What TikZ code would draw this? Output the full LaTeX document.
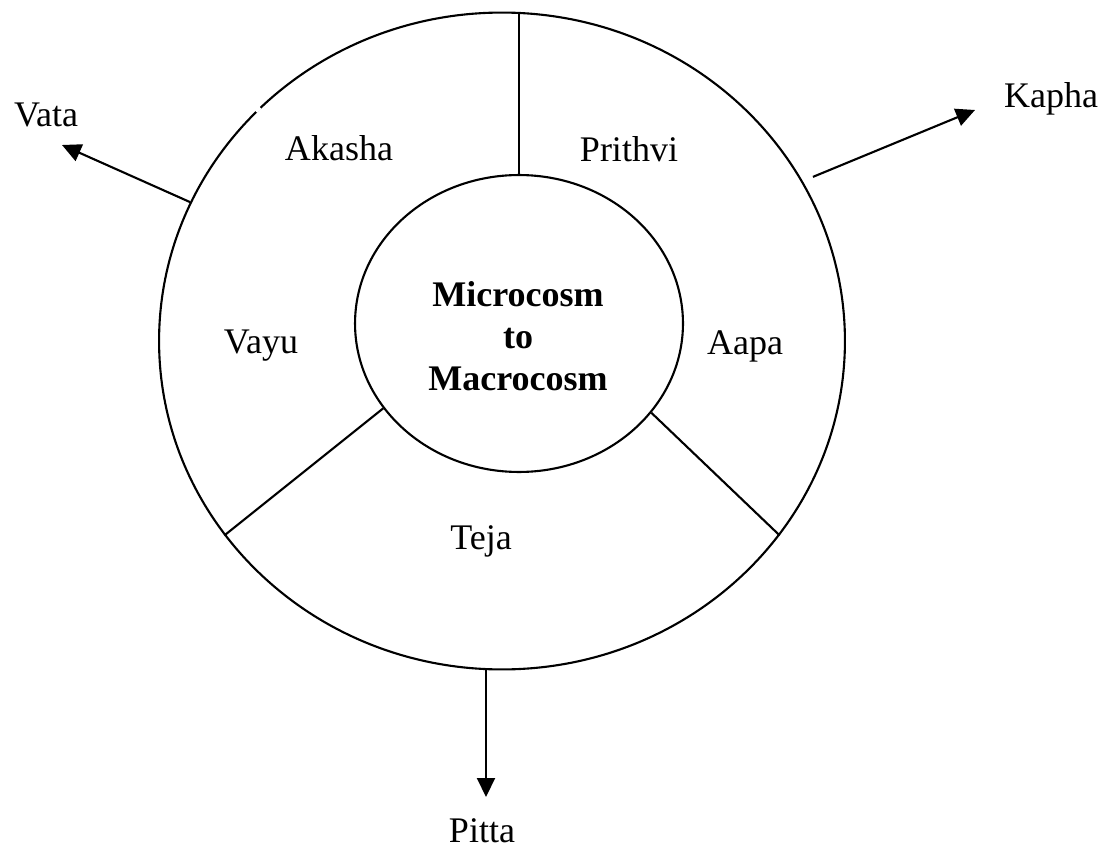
\documentclass[tikz,border=0pt]{standalone}
\usepackage{fontspec}
\setmainfont{Liberation Serif}
\usetikzlibrary{positioning, arrows.meta, shapes.geometric}

\begin{document}
\begin{tikzpicture}[
    x=0.02cm, y=-0.02cm,
    font=\fontsize{20.5}{24}\selectfont,
    ring/.style={
        ellipse,
        draw,
        line width=1.2pt,
        inner sep=0pt
    },
    spoke/.style={line width=1.2pt},
    pointer/.style={-{Triangle[length=0.38cm, width=0.36cm]}, line width=1.2pt},
    element/.style={align=center},
    dosha/.style={align=center, inner sep=1pt}
]
\useasboundingbox (0,0) rectangle (1105,851);

\node[ring, minimum width=13.72cm, minimum height=13.14cm] (outer) at (502,341) {};
\node[ring, minimum width=6.56cm, minimum height=5.94cm] (inner) at (519,323.5) {};

% small break in the outer ring
\draw[white, line width=2.8pt] (outer.136.3) -- (outer.137.4);

\node[align=center, font=\fontsize{20.5}{24}\selectfont\bfseries] (hub) at (518,336) {Microcosm\\to\\Macrocosm};

\draw[spoke] (inner.north) -- (inner.north |- outer.north);
\draw[spoke] (inner.212) -- (outer.215);
\draw[spoke] (inner.326.5) -- (outer.325);

\node[element] (akasha) at (339,148) {Akasha};
\node[element] (prithvi) at (629,149) {Prithvi};
\node[element] (vayu) at (261,346) {Vayu};
\node[element] (aapa) at (745,346) {Aapa};
\node[element] (teja) at (481,541) {Teja};

\coordinate (vatatip) at (62,145);
\coordinate (kaphatip) at (975,110);
\coordinate (pittatip) at (486,797);

\node[dosha] (vata) at (46,115) {Vata};
\node[dosha] (kapha) at (1051,99) {Kapha};
\node[dosha] (pitta) at (482,831) {Pitta};

\draw[pointer] (outer.156.7) -- (vatatip);
\draw[pointer, shorten <=0.22cm] (outer.28) -- (kaphatip);
\draw[pointer] (outer.south -| pittatip) -- (pittatip);

\end{tikzpicture}
\end{document}
